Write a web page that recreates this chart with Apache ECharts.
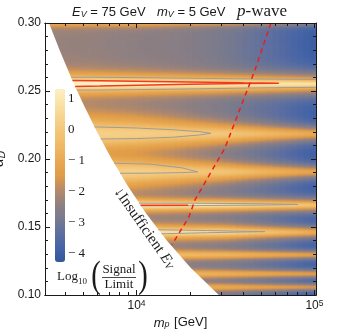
<!DOCTYPE html>
<html><head><meta charset="utf-8">
<script src="https://cdn.jsdelivr.net/npm/echarts@6/dist/echarts.min.js"></script>
<style>html,body{margin:0;padding:0;background:#fff;}#c{width:354px;height:334px;}</style>
</head><body><div id="c"></div>
<script>
// ---------------- data ----------------
// plot range
const massRange = [3060, 102000];
const alphaRange = [0.10, 0.30];
// background level (log10 Signal/Limit between resonance bands) versus mass
const bgMass  = [3162, 5623, 10000, 17783, 31623, 56234, 100000];
const bgLevel = [-2.3, -2.35, -2.45, -2.55, -2.85, -3.35, -4.0];
// resonance bands: centre, peak level and width read at massNodes
const massNodes = [3162, 10000, 31623, 100000];
const bandAlpha = [0.3025, 0.2556, 0.2190, 0.1910, 0.1665, 0.1466, 0.1300, 0.1160, 0.1062];
const bandPeak = [
  [-0.4, -0.5, -0.9, -1.8],
  [1.65, 1.5, 1.25, 0.85],
  [0.35, 0.25, -0.05, -1.0],
  [0.35, 0.25, -0.15, -1.2],
  [1.5, 1.4, 0.8, -0.2],
  [1.0, 0.9, 0.5, -0.9],
  [-0.3, -0.3, -0.6, -1.3],
  [-0.5, -0.5, -0.8, -1.4],
  [-0.8, -0.8, -1.0, -1.6]
];
const bandWidth = [
  [0.0035, 0.0035, 0.0032, 0.003],
  [0.0022, 0.002, 0.0018, 0.0016],
  [0.0075, 0.006, 0.0038, 0.0026],
  [0.007, 0.0055, 0.0036, 0.0025],
  [0.0015, 0.0014, 0.0015, 0.0017],
  [0.002, 0.002, 0.002, 0.002],
  [0.0022, 0.0022, 0.002, 0.0017],
  [0.0022, 0.0022, 0.002, 0.0017],
  [0.0022, 0.0022, 0.002, 0.0017]
];
const bandPower = [3, 2.5, 2.5, 2.5, 2.5, 2.5, 2.5, 2.5, 2.5];
// "Insufficient E_V" boundary (white region)
const boundaryMass  = [3060, 3222, 3699, 4290, 5035, 5992, 7250, 8951, 11328, 14796, 20139, 29000];
const boundaryAlpha = [0.3078, 0.30, 0.28, 0.26, 0.24, 0.22, 0.20, 0.18, 0.16, 0.14, 0.12, 0.10];
// red dashed curve
const dashMass  = [56900, 46300, 31400, 21300, 19700, 15800];
const dashAlpha = [0.300, 0.2654, 0.2081, 0.1699, 0.1574, 0.1368];
// contour lines (gray: Signal/Limit = 1, red: = 10)
const grayContours = [
  [[4290,0.2601],[6230,0.2601],[19960,0.2594],[43400,0.2589],[102000,0.2585]],
  [[4614,0.2507],[6230,0.2507],[19960,0.2515],[43400,0.2522],[102000,0.2527]],
  [[5800,0.2236],[10000,0.2228],[16000,0.2215],[22700,0.2201],[26200,0.2189],[22700,0.2177],[16000,0.2160],[10000,0.2150],[6291,0.2147]],
  [[7480,0.1969],[12000,0.1962],[18000,0.1935],[22100,0.1905],[18000,0.1900],[12000,0.1896],[8076,0.1895]],
  [[10336,0.1675],[19960,0.1675],[50000,0.1671],[80700,0.1666],[50000,0.1661],[19960,0.1657],[10588,0.1655]],
  [[13240,0.1480],[25000,0.1474],[52700,0.1466],[25000,0.1458],[13793,0.1450]]
];
const redContours = [
  [[4363,0.2578],[6230,0.2576],[19960,0.2566],[40000,0.2560],[63100,0.2557],[40000,0.2555],[19960,0.2549],[6230,0.2536],[4516,0.2534]],
  [[10524,0.1660],[19500,0.1660]]
];
// ticks
const xMajorTicks = [10000, 100000];
const xMinorTicks = [4000, 5000, 6000, 7000, 8000, 9000, 20000, 30000, 40000, 50000, 60000, 70000, 80000, 90000];
const colorbarTicks = [-4, -3, -2, -1, 0, 1];
const colorRange = [-4.26, 1.32];
const palette = ['#33579a','#4464a6','#5e6fa0','#777a8f','#8f8081','#b68a69','#e09c48','#e8a852','#eeb864','#f3c578','#f6d38d','#f9e3a7','#fcf0c4'];

// ---------------- build density cells ----------------
const L10 = Math.log10;
function atMass(masses, vals, m) {
  const l = L10(m);
  if (l <= L10(masses[0])) return vals[0];
  for (let i = 1; i < masses.length; i++) {
    const a = L10(masses[i - 1]), b = L10(masses[i]);
    if (l <= b) return vals[i - 1] + (l - a) / (b - a) * (vals[i] - vals[i - 1]);
  }
  return vals[vals.length - 1];
}
function boundaryAt(al) {
  if (al >= boundaryAlpha[0]) return boundaryMass[0];
  for (let i = 1; i < boundaryAlpha.length; i++) {
    if (al >= boundaryAlpha[i]) {
      const t = (al - boundaryAlpha[i - 1]) / (boundaryAlpha[i] - boundaryAlpha[i - 1]);
      return Math.pow(10, L10(boundaryMass[i - 1]) + t * (L10(boundaryMass[i]) - L10(boundaryMass[i - 1])));
    }
  }
  return boundaryMass[boundaryMass.length - 1];
}
const NC = 44, NR = 272, SUB = 3;
const lmin = L10(massRange[0]), lmax = L10(massRange[1]);
const cells = [];
for (let j = 0; j < NC; j++) {
  const l0 = lmin + (lmax - lmin) * j / NC, l1 = lmin + (lmax - lmin) * (j + 1) / NC;
  const mc = Math.pow(10, (l0 + l1) / 2);
  const bg = Math.pow(10, atMass(bgMass, bgLevel, mc));
  const pk = bandAlpha.map((a, b) => Math.pow(10, atMass(massNodes, bandPeak[b], mc)));
  const wd = bandAlpha.map((a, b) => atMass(massNodes, bandWidth[b], mc));
  for (let i = 0; i < NR; i++) {
    const a0 = alphaRange[0] + (alphaRange[1] - alphaRange[0]) * i / NR;
    const a1 = alphaRange[0] + (alphaRange[1] - alphaRange[0]) * (i + 1) / NR;
    if (Math.pow(10, l1) < boundaryAt(a1)) continue;
    let s = 0;
    for (let k = 0; k < SUB; k++) {
      const al = a0 + (a1 - a0) * (k + 0.5) / SUB;
      let t = bg;
      for (let b = 0; b < bandAlpha.length; b++) {
        const u = (al - bandAlpha[b]) / wd[b];
        t += pk[b] / Math.pow(1 + u * u, bandPower[b]);
      }
      s += t;
    }
    let v = L10(s / SUB);
    v = Math.max(colorRange[0], Math.min(colorRange[1], v));
    cells.push([Math.pow(10, l0), Math.pow(10, l1), a0, a1, v]);
  }
}

// ---------------- chart ----------------
const SANS = "'Liberation Sans', Arial, sans-serif";
const SERIF = "'Liberation Serif', 'Times New Roman', serif";
const INK = '#1a1a1a';
const chart = echarts.init(document.getElementById('c'), null, {renderer: 'canvas', width: 354, height: 334});

function xAxisCfg(pos, ticks, len, labels) {
  return {
    type: 'log', gridIndex: 0, position: pos, min: massRange[0], max: massRange[1], z: 10,
    axisLine: {show: true, onZero: false, lineStyle: {color: INK, width: 1}},
    axisTick: {show: true, inside: true, length: len, customValues: ticks, lineStyle: {color: INK, width: 1}},
    axisLabel: labels ? {
      show: true, customValues: ticks, margin: 4, color: INK, fontFamily: SANS, fontSize: 12,
      formatter: v => '10{s|' + Math.round(L10(v)) + '}',
      rich: {s: {fontSize: 8.5, fontFamily: SANS, color: INK, verticalAlign: 'top', padding: [0, 0, 4, 0]}}
    } : {show: false},
    splitLine: {show: false}, minorTick: {show: false}
  };
}
function yAxisCfg(pos, labels) {
  return {
    type: 'value', gridIndex: 0, position: pos, min: alphaRange[0], max: alphaRange[1], interval: 0.05, z: 10,
    axisLine: {show: true, onZero: false, lineStyle: {color: INK, width: 1}},
    axisTick: {show: true, inside: true, length: 5, lineStyle: {color: INK}},
    minorTick: {show: true, splitNumber: 5, length: 3, lineStyle: {color: INK}},
    axisLabel: labels ? {show: true, margin: 4, color: INK, fontFamily: SANS, fontSize: 12, formatter: v => v.toFixed(2)} : {show: false},
    splitLine: {show: false}, minorSplitLine: {show: false}
  };
}
const xBottom = xAxisCfg('bottom', xMajorTicks, 5, true);
xBottom.name = '{i|m}{s|p} [GeV]';
xBottom.nameLocation = 'middle';
xBottom.nameGap = 21;
xBottom.nameTextStyle = {color: INK, fontFamily: SANS, fontSize: 13,
  rich: {i: {fontStyle: 'italic', fontFamily: SANS, fontSize: 13, color: INK},
         s: {fontStyle: 'italic', fontFamily: SANS, fontSize: 9, color: INK, verticalAlign: 'bottom', padding: [0, 1, 0, 0]}}};
const yLeft = yAxisCfg('left', true);
yLeft.name = '{a|α}{d|D}';
yLeft.nameLocation = 'middle';
yLeft.nameGap = 29;
yLeft.nameTextStyle = {color: INK, fontFamily: SANS, fontSize: 15,
  rich: {a: {fontStyle: 'italic', fontFamily: SANS, fontSize: 15, color: INK},
         d: {fontStyle: 'italic', fontFamily: SANS, fontSize: 10, color: INK, verticalAlign: 'bottom'}}};

const lineSeries = [];
grayContours.forEach(c => lineSeries.push({type: 'line', xAxisIndex: 0, yAxisIndex: 0, data: c, showSymbol: false, symbol: 'none', silent: true, z: 4,
  lineStyle: {color: '#9c9c9c', width: 1}}));
redContours.forEach(c => lineSeries.push({type: 'line', xAxisIndex: 0, yAxisIndex: 0, data: c, showSymbol: false, symbol: 'none', silent: true, z: 5,
  lineStyle: {color: '#f23a1e', width: 1.5}}));

const option = {
  animation: false,
  backgroundColor: '#fff',
  grid: [
    {left: 45, top: 23, width: 271, height: 272, containLabel: false, outerBoundsMode: 'none'},
    {left: 55, top: 89, width: 10, height: 173, containLabel: false, outerBoundsMode: 'none'}
  ],
  xAxis: [
    xBottom,
    xAxisCfg('bottom', xMinorTicks, 3, false),
    xAxisCfg('top', xMajorTicks, 5, false),
    xAxisCfg('top', xMinorTicks, 3, false),
    {type: 'value', gridIndex: 1, show: false, min: 0, max: 1}
  ],
  yAxis: [
    yLeft,
    yAxisCfg('right', false),
    {type: 'value', gridIndex: 1, position: 'right', min: colorRange[0], max: colorRange[1], z: 10,
     axisLine: {show: false}, axisTick: {show: false}, splitLine: {show: false},
     axisLabel: {show: true, customValues: colorbarTicks, margin: 3, color: INK, fontFamily: SERIF, fontSize: 13, align: 'left',
       formatter: v => v < 0 ? '\u2212 ' + Math.abs(v) : String(v)}}
  ],
  visualMap: {
    type: 'continuous', min: colorRange[0], max: colorRange[1], dimension: 4, seriesIndex: 0,
    left: 55, top: 89, itemWidth: 10, itemHeight: 173, padding: 0, calculable: false, hoverLink: false,
    inRange: {color: palette}, z: 6
  },
  series: [
    {type: 'custom', xAxisIndex: 0, yAxisIndex: 0, data: cells, encode: {x: [0, 1], y: [2, 3]}, clip: true, silent: true, z: 1,
     renderItem: function (params, api) {
       const p0 = api.coord([api.value(0), api.value(3)]);
       const p1 = api.coord([api.value(1), api.value(2)]);
       return {type: 'rect', shape: {x: p0[0], y: p0[1], width: p1[0] - p0[0] + 0.6, height: p1[1] - p0[1] + 0.6},
               style: {fill: api.visual('color')}};
     }},
    {type: 'line', xAxisIndex: 0, yAxisIndex: 0, data: boundaryMass.map((m, i) => [m, boundaryAlpha[i]]),
     showSymbol: false, symbol: 'none', silent: true, clip: true, z: 3,
     lineStyle: {width: 0, color: '#fff'}, areaStyle: {color: '#fff', opacity: 1, origin: 'start'}},
    ...lineSeries,
    {type: 'line', xAxisIndex: 0, yAxisIndex: 0, data: dashMass.map((m, i) => [m, dashAlpha[i]]),
     showSymbol: false, symbol: 'none', silent: true, z: 6,
     lineStyle: {color: '#ee1c1c', width: 1.5, type: [5, 4]}}
  ],
  graphic: [
    {type: 'text', x: 72, y: 12, z: 100, style: {text: '{i|E}{s|V} = 75 GeV', fill: INK, fontFamily: SANS, fontSize: 13, align: 'left', verticalAlign: 'middle',
      rich: {i: {fontStyle: 'italic', fontFamily: SANS, fontSize: 13, fill: INK}, s: {fontStyle: 'italic', fontFamily: SANS, fontSize: 9, fill: INK, verticalAlign: 'bottom'}}}},
    {type: 'text', x: 157, y: 12, z: 100, style: {text: '{i|m}{s|V} = 5 GeV', fill: INK, fontFamily: SANS, fontSize: 13, align: 'left', verticalAlign: 'middle',
      rich: {i: {fontStyle: 'italic', fontFamily: SANS, fontSize: 13, fill: INK}, s: {fontStyle: 'italic', fontFamily: SANS, fontSize: 9, fill: INK, verticalAlign: 'bottom'}}}},
    {type: 'text', x: 237, y: 12, z: 100, style: {text: '{i|p}-wave', fill: INK, fontFamily: SERIF, fontSize: 17, align: 'left', verticalAlign: 'middle',
      rich: {i: {fontStyle: 'italic', fontFamily: SERIF, fontSize: 17, fill: INK}}}},
    {type: 'text', x: 117, y: 189, rotation: -55 * Math.PI / 180, z: 100,
     style: {text: '\u2193Insufficient {i|E}{s|V}', fill: INK, fontFamily: SERIF, fontSize: 15, align: 'left', verticalAlign: 'middle',
      rich: {i: {fontStyle: 'italic', fontFamily: SERIF, fontSize: 15, fill: INK}, s: {fontStyle: 'italic', fontFamily: SERIF, fontSize: 10, fill: INK, verticalAlign: 'bottom'}}}},
    {type: 'text', x: 57, y: 277, z: 100, style: {text: 'Log', fill: INK, fontFamily: SERIF, fontSize: 13, align: 'left', verticalAlign: 'middle'}},
    {type: 'text', x: 78, y: 282, z: 100, style: {text: '10', fill: INK, fontFamily: SERIF, fontSize: 9, align: 'left', verticalAlign: 'middle'}},
    {type: 'text', x: 96, y: 277, z: 100, scaleX: 0.75, style: {text: '(', fill: INK, fontFamily: SERIF, fontSize: 38, align: 'center', verticalAlign: 'middle'}},
    {type: 'text', x: 119, y: 270, z: 100, style: {text: 'Signal', fill: INK, fontFamily: SERIF, fontSize: 13, align: 'center', verticalAlign: 'middle'}},
    {type: 'line', z: 100, shape: {x1: 102, y1: 277.5, x2: 136, y2: 277.5}, style: {stroke: INK, lineWidth: 0.8}},
    {type: 'text', x: 119, y: 285, z: 100, style: {text: 'Limit', fill: INK, fontFamily: SERIF, fontSize: 13, align: 'center', verticalAlign: 'middle'}},
    {type: 'text', x: 143, y: 277, z: 100, scaleX: 0.75, style: {text: ')', fill: INK, fontFamily: SERIF, fontSize: 38, align: 'center', verticalAlign: 'middle'}}
  ]
};
chart.setOption(option);
</script>
</body></html>
